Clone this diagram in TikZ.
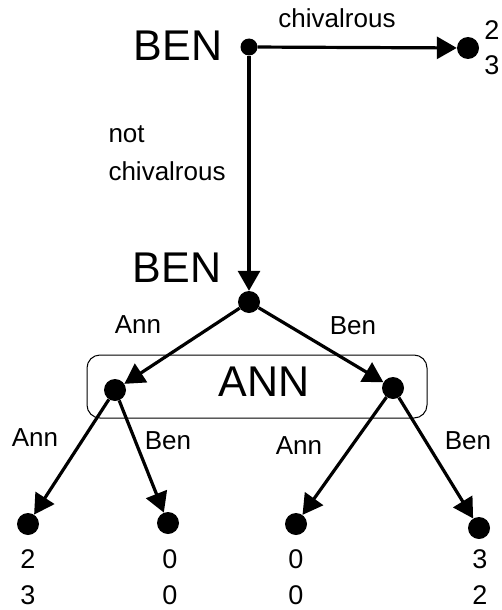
\documentclass[tikz,border=0pt]{standalone}
\usepackage{fontspec}
\setmainfont{Liberation Sans}
\usetikzlibrary{arrows.meta}
\begin{document}
\begin{tikzpicture}[x=1pt,y=-1pt,
  decision/.style={circle,fill=black,inner sep=0pt,minimum size=22pt},
  smalldot/.style={circle,fill=black,inner sep=0pt,minimum size=17pt},
  move/.style={line width=3.2pt,-{Triangle[length=20pt,width=22pt]}},
  player/.style={font=\fontsize{43}{46}\selectfont},
  lbl/.style={font=\fontsize{26}{30}\selectfont},
  pay/.style={font=\fontsize{27}{30}\selectfont}]
\useasboundingbox (0,0) rectangle (502,610);

% information set of Ann
\draw[line width=1pt,rounded corners=13pt] (87,355) rectangle (427,418);
\node[player] (annset) at (264,382) {ANN};

% decision nodes
\node[smalldot] (root) at (249,47) {};
\node[decision] (ben2) at (249,302) {};
\node[decision] (annL) at (115,390) {};
\node[decision] (annR) at (393,388) {};

% terminal nodes
\node[decision] (tchiv) at (468,48) {};
\node[decision] (t1) at (28,524) {};
\node[decision] (t2) at (168,523) {};
\node[decision] (t3) at (296,524) {};
\node[decision] (t4) at (479,528) {};

% player names
\node[player] (benA) at (178,46) {BEN};
\node[player] (benB) at (177,268) {BEN};

% moves
\draw[move] (root) -- (tchiv);
\draw[move] (root) -- (ben2);
\draw[move] (ben2) -- (annL);
\draw[move] (ben2) -- (annR);
\draw[move] (annL) -- (t1);
\draw[move] (annL) -- (t2);
\draw[move] (annR) -- (t3);
\draw[move] (annR) -- (t4);

% move labels
\node[lbl] (lchiv) at (337,18) {chivalrous};
\node[lbl,anchor=west] (lnot) at (105,134) {not};
\node[lbl,anchor=west] (lnotc) at (105,171) {chivalrous};
\node[lbl] (la) at (138,325) {Ann};
\node[lbl] (lb) at (353,326) {Ben};
\node[lbl] (la1) at (35,438) {Ann};
\node[lbl] (lb1) at (168,441) {Ben};
\node[lbl] (la2) at (299,446) {Ann};
\node[lbl] (lb2) at (468,441) {Ben};

% payoffs
\node[pay] (pc1) at (492,30) {2};
\node[pay] (pc2) at (492,65) {3};
\node[pay] (p11) at (28,559) {2};
\node[pay] (p12) at (28,595) {3};
\node[pay] (p21) at (170,559) {0};
\node[pay] (p22) at (170,595) {0};
\node[pay] (p31) at (296,559) {0};
\node[pay] (p32) at (296,595) {0};
\node[pay] (p41) at (480,559) {3};
\node[pay] (p42) at (480,595) {2};
\end{tikzpicture}
\end{document}
